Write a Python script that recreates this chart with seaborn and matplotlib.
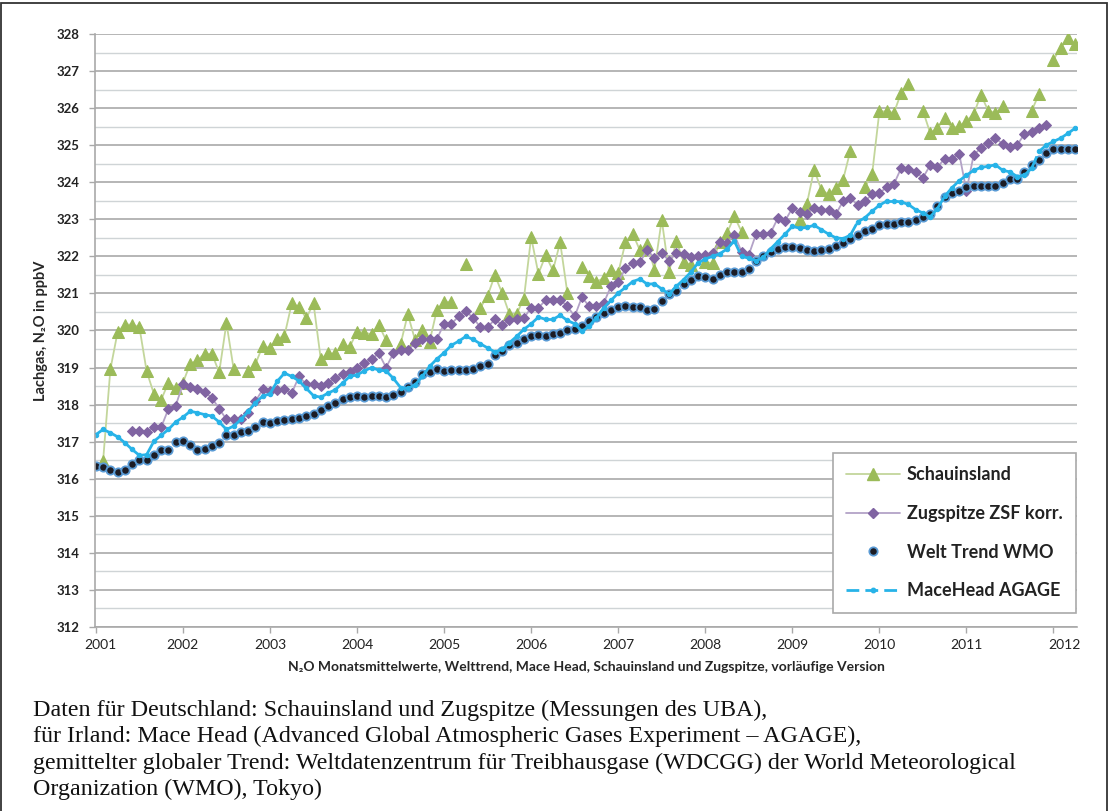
import numpy as np
import pandas as pd
import matplotlib
matplotlib.use("Agg")
import matplotlib.pyplot as plt
import matplotlib.transforms as mtransforms
import seaborn as sns
from matplotlib.collections import LineCollection
from matplotlib.lines import Line2D
from matplotlib.patches import Rectangle

nan = np.nan

# monthly values Jan 2001 - Apr 2012 (ppb)
months = pd.date_range("2001-01-01", periods=136, freq="MS")

schauinsland = [
    nan, 316.49, 318.95, 319.96, 320.16, 320.16, 320.09, 318.9, 318.29, 318.13, 318.59, 318.45,
    318.59, 319.1, 319.2, 319.37, 319.37, 318.87, 320.2, 318.95, nan, 318.9, 319.1, 319.58,
    319.53, 319.77, 319.86, 320.73, 320.64, 320.33, 320.73, 319.23, 319.38, 319.38, 319.63, 319.56,
    319.97, 319.94, 319.9, 320.15, 319.74, nan, 319.63, 320.44, 319.74, 320.01, 319.7, 320.55,
    320.78, 320.77, nan, 321.8, nan, 320.61, 320.94, 321.49, 321.01, 320.45, 320.45, 320.86,
    322.52, 321.53, 322.03, 321.62, 322.38, 321.0, nan, 321.72, 321.48, 321.31, 321.42, 321.63,
    321.55, 322.38, 322.61, 322.16, 322.33, 321.64, 322.99, 321.57, 322.42, 321.86, 321.77, nan,
    321.84, 321.82, 322.4, 322.63, 323.08, 322.67, nan, nan, nan, nan, nan, nan,
    nan, 322.99, 323.41, 324.34, 323.8, 323.67, 323.85, 324.07, 324.85, nan, 323.86, 324.22,
    325.91, 325.91, 325.87, 326.41, 326.65, nan, 325.93, 325.33, 325.46, 325.72, 325.46, 325.51,
    325.66, 325.84, 326.36, 325.93, 325.87, 326.05, nan, nan, nan, 325.93, 326.38, nan,
    327.31, 327.62, 327.89, 327.73,
]

zugspitze = [
    nan, nan, nan, nan, nan, 317.3, 317.28, 317.26, 317.39, 317.39, 317.88, 317.97,
    318.55, 318.47, 318.41, 318.34, 318.18, 317.89, 317.6, 317.6, 317.6, 317.78, 318.09, 318.41,
    318.37, 318.4, 318.41, 318.31, 318.76, 318.55, 318.55, 318.49, 318.58, 318.71, 318.82, 318.89,
    318.98, 319.12, 319.23, 319.38, 319.0, 319.38, 319.47, 319.47, 319.65, 319.76, 319.76, 319.77,
    320.18, 320.18, 320.38, 320.52, 320.34, 320.09, 320.09, 320.3, 320.14, 320.27, 320.32, 320.34,
    320.61, 320.61, 320.82, 320.83, 320.83, 320.65, 320.38, 320.9, 320.65, 320.67, 320.74, 321.19,
    321.3, 321.68, 321.82, 321.84, 322.18, 321.95, 322.09, 321.88, 322.09, 322.06, 321.97, 322.0,
    322.04, 322.09, 322.38, 322.36, 322.58, 322.13, 322.04, 322.6, 322.6, 322.63, 323.03, 322.96,
    323.3, 323.2, 323.14, 323.31, 323.26, 323.26, 323.14, 323.49, 323.58, 323.38, 323.49, 323.67,
    323.71, 323.86, 323.95, 324.38, 324.37, 324.28, 324.12, 324.46, 324.4, 324.64, 324.64, 324.77,
    323.77, 324.74, 324.92, 325.06, 325.19, 325.03, 324.94, 325.01, 325.3, 325.36, 325.46, 325.54,
    nan, nan, nan, nan,
]

welt_wmo = [
    316.35, 316.32, 316.23, 316.19, 316.23, 316.41, 316.51, 316.51, 316.63, 316.78, 316.78, 317.0,
    317.03, 316.92, 316.78, 316.79, 316.88, 316.97, 317.17, 317.17, 317.27, 317.3, 317.4, 317.53,
    317.5, 317.55, 317.58, 317.6, 317.64, 317.69, 317.75, 317.85, 317.96, 318.05, 318.14, 318.2,
    318.22, 318.2, 318.23, 318.22, 318.2, 318.26, 318.35, 318.47, 318.62, 318.83, 318.87, 318.95,
    318.92, 318.94, 318.94, 318.94, 318.97, 319.04, 319.1, 319.33, 319.44, 319.61, 319.67, 319.76,
    319.86, 319.88, 319.84, 319.9, 319.94, 320.0, 320.03, 320.12, 320.25, 320.36, 320.46, 320.54,
    320.64, 320.65, 320.63, 320.63, 320.55, 320.58, 320.8, 320.98, 321.07, 321.25, 321.36, 321.47,
    321.45, 321.4, 321.51, 321.57, 321.57, 321.57, 321.67, 321.88, 322.02, 322.13, 322.2, 322.26,
    322.26, 322.22, 322.18, 322.15, 322.18, 322.2, 322.27, 322.36, 322.46, 322.57, 322.68, 322.75,
    322.84, 322.86, 322.88, 322.92, 322.94, 322.98, 323.05, 323.13, 323.35, 323.59, 323.7, 323.77,
    323.88, 323.9, 323.9, 323.91, 323.91, 323.98, 324.09, 324.09, 324.28, 324.47, 324.59, 324.79,
    324.9, 324.9, 324.9, 324.9,
]

mace_head = [
    317.19, 317.33, 317.24, 317.13, 316.97, 316.79, 316.63, 316.65, 317.01, 317.17, 317.33, 317.53,
    317.66, 317.82, 317.78, 317.73, 317.69, 317.53, 317.33, 317.42, 317.6, 317.82, 318.05, 318.23,
    318.29, 318.63, 318.85, 318.76, 318.64, 318.44, 318.24, 318.2, 318.31, 318.4, 318.58, 318.76,
    318.8, 318.91, 319.0, 318.93, 318.91, 318.71, 318.46, 318.44, 318.53, 318.76, 319.03, 319.23,
    319.4, 319.6, 319.71, 319.84, 319.76, 319.64, 319.53, 319.42, 319.49, 319.67, 319.84, 320.03,
    320.18, 320.36, 320.3, 320.3, 320.41, 320.27, 320.18, 319.98, 320.12, 320.34, 320.61, 320.81,
    321.01, 321.16, 321.32, 321.39, 321.25, 321.26, 321.12, 320.98, 321.19, 321.37, 321.57, 321.82,
    321.93, 322.0, 322.07, 322.2, 322.42, 322.0, 321.95, 321.88, 321.97, 322.2, 322.4, 322.6,
    322.81, 322.76, 322.78, 322.84, 322.72, 322.6, 322.5, 322.48, 322.57, 322.93, 323.04, 323.22,
    323.38, 323.49, 323.49, 323.47, 323.4, 323.26, 323.17, 323.06, 323.29, 323.62, 323.85, 324.04,
    324.19, 324.32, 324.4, 324.43, 324.47, 324.32, 324.28, 324.15, 324.19, 324.38, 324.83, 325.0,
    325.1, 325.19, 325.32, 325.46,
]

labels = ["Schauinsland", "Zugspitze ZSF korr.", "Welt Trend WMO", "MaceHead AGAGE"]
years = list(range(2001, 2013))
caption = [
    "Daten für Deutschland: Schauinsland und Zugspitze (Messungen des UBA),",
    "für Irland: Mace Head (Advanced Global Atmospheric Gases Experiment – AGAGE),",
    "gemittelter globaler Trend: Weltdatenzentrum für Treibhausgase (WDCGG) der World Meteorological",
    "Organization (WMO), Tokyo)",
]

GREEN, GREEN_L = "#9BBB59", "#C3D69B"
PURPLE, PURPLE_L = "#8064A2", "#B3A2C7"
BLUE = "#27B3E8"

sns.set_theme(style="white")
plt.rcParams["font.family"] = ["Lato", "DejaVu Sans"]

t = months.year + (months.month - 1) / 12


def segments(values):
    # split a series at missing months so that lines break there
    df = pd.DataFrame({"t": t, "v": values})
    df["seg"] = df["v"].isna().cumsum()
    return df.dropna()


fig = plt.figure(figsize=(11.11, 8.11), dpi=100)
ax = fig.add_axes([0.0855, 0.2269, 0.8839, 0.7312])

sns.lineplot(data=segments(schauinsland), x="t", y="v", units="seg", estimator=None,
             color=GREEN_L, lw=1.3, marker="^", markersize=8.5, markerfacecolor=GREEN,
             markeredgecolor=GREEN, legend=False, ax=ax)
sns.lineplot(data=segments(zugspitze), x="t", y="v", units="seg", estimator=None,
             color=PURPLE_L, lw=1.3, marker="D", markersize=5.5, markerfacecolor=PURPLE,
             markeredgecolor=PURPLE, legend=False, ax=ax)
sns.lineplot(data=segments(welt_wmo), x="t", y="v", units="seg", estimator=None,
             linestyle="", marker="o", markersize=6, markerfacecolor="#1C1C24",
             markeredgecolor="#5A9BD5", markeredgewidth=1.3, legend=False, ax=ax)

# Mace Head: long dashes restarted on every month-to-month segment (as in Excel)
pts = np.column_stack([t, mace_head])
lc = LineCollection(np.stack([pts[:-1], pts[1:]], axis=1), colors=BLUE, linewidths=2.0,
                    linestyles=[(0, (4.6, 2.2))], capstyle="butt", zorder=3)
ax.add_collection(lc)
sns.lineplot(data=segments(mace_head), x="t", y="v", units="seg", estimator=None,
             linestyle="", marker="o", markersize=3.2, markerfacecolor=BLUE,
             markeredgecolor=BLUE, legend=False, ax=ax)

ax.set_xlim(2000.99, 2012.27)
ax.set_ylim(312, 328)
ax.set_yticks(range(312, 329))
ax.set_yticks(np.arange(312.5, 328, 1), minor=True)
ax.set_xticks(years)
ax.set_xticklabels([str(y) for y in years], fontsize=10, color="#222222")
ax.set_yticklabels([str(v) for v in range(312, 329)], fontsize=9.5, fontweight="bold",
                   color="#222222")
ax.grid(which="major", axis="y", color="#A9A9A9", lw=1.2)
ax.grid(which="minor", axis="y", color="#CFD4D6", lw=1.0)
ax.grid(which="major", axis="x", visible=False)
ax.tick_params(axis="both", which="major", direction="out", length=4, width=1,
               color="#A9A9A9", left=True, bottom=True)
ax.tick_params(axis="y", pad=7)
ax.tick_params(axis="x", pad=5)
ax.tick_params(which="minor", length=0)
for side in ["top", "right"]:
    ax.spines[side].set_visible(False)
for side in ["left", "bottom"]:
    ax.spines[side].set_color("#A9A9A9")
    ax.spines[side].set_linewidth(1.2)

# the first and last year labels sit a little to the right, as in the original
xlabels = ax.get_xticklabels()
for lab, dx in [(xlabels[0], 5), (xlabels[-1], 11)]:
    lab.set_transform(lab.get_transform()
                      + mtransforms.ScaledTranslation(dx / 100, 0, fig.dpi_scale_trans))

ax.set_ylabel("Lachgas, N\u2082O in ppbV", fontsize=10.5, fontweight="bold", labelpad=6)
ax.set_xlabel("N\u2082O Monatsmittelwerte, Welttrend, Mace Head, Schauinsland und Zugspitze, "
              "vorläufige Version", fontsize=10, fontweight="bold", labelpad=7)

handles = [
    Line2D([], [], color=GREEN_L, lw=1.3, marker="^", markersize=8, markerfacecolor=GREEN,
           markeredgecolor=GREEN),
    Line2D([], [], color=PURPLE_L, lw=1.3, marker="D", markersize=5.5, markerfacecolor=PURPLE,
           markeredgecolor=PURPLE),
    Line2D([], [], linestyle="", marker="o", markersize=6, markerfacecolor="#1C1C24",
           markeredgecolor="#5A9BD5", markeredgewidth=1.3),
    Line2D([], [], color=BLUE, lw=2.0, linestyle=(0, (4.6, 2.2)), marker="o", markersize=3.2,
           markerfacecolor=BLUE, markeredgecolor=BLUE),
]
leg = ax.legend(handles, labels, loc="lower right", bbox_to_anchor=(0.999, 0.024),
                borderaxespad=0, frameon=True, fancybox=False, framealpha=1,
                edgecolor="#A9A9A9", prop={"family": ["Lato", "DejaVu Sans"], "weight": "bold",
                                           "size": 13},
                labelspacing=1.2, borderpad=0.75, handlelength=3.0, handletextpad=0.35)
leg.get_frame().set_linewidth(1.2)
for txt in leg.get_texts():
    txt.set_color("#222222")

for i, line in enumerate(caption):
    fig.text(0.03, 1 - (710 + 26.5 * i) / 811, line, family=["Liberation Serif", "DejaVu Serif"],
             fontsize=17.3, va="center", ha="left", color="#111111")

fig.add_artist(Rectangle((0.001, -0.01), 0.9955, 1.0063, transform=fig.transFigure,
                         fill=False, edgecolor="#333333", lw=1.3))

fig.savefig("out.png", dpi=100)
